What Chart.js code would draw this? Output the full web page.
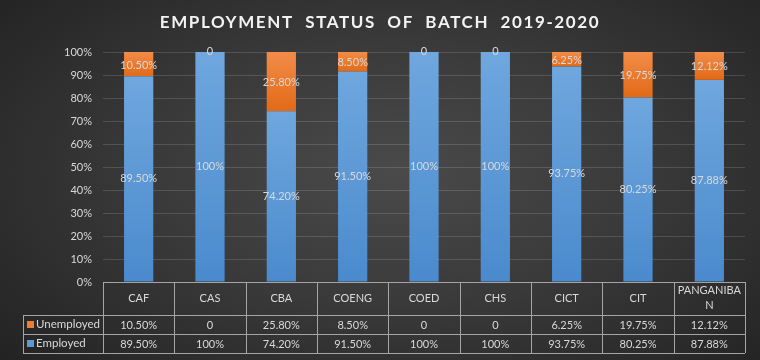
<!DOCTYPE html>
<html>
<head>
<meta charset="utf-8">
<script src="https://cdn.jsdelivr.net/npm/chart.js@4.4.0/dist/chart.umd.min.js"></script>
<style>
  html, body { margin: 0; padding: 0; }
  body {
    width: 760px; height: 360px; overflow: hidden;
    background: radial-gradient(ellipse 70% 80% at 52% 48%, #4a4a4a 0%, #3a3a3a 45%, #222222 100%);
  }
  #wrap { position: relative; width: 760px; height: 360px; }
</style>
</head>
<body>
<div id="wrap"><canvas id="statusChart" width="760" height="360"></canvas></div>
<script>
// datos del grafico
const colleges = ["CAF", "CAS", "CBA", "COENG", "COED", "CHS", "CICT", "CIT", "PANGANIBAN"];
const collegeHeader = [["CAF"], ["CAS"], ["CBA"], ["COENG"], ["COED"], ["CHS"], ["CICT"], ["CIT"], ["PANGANIBA", "N"]];
const unemployed = [10.5, 0, 25.8, 8.5, 0, 0, 6.25, 19.75, 12.12];
const employed = [89.5, 100, 74.2, 91.5, 100, 100, 93.75, 80.25, 87.88];
const yTicks = [0, 10, 20, 30, 40, 50, 60, 70, 80, 90, 100];
const chartTitle = "EMPLOYMENT  STATUS  OF  BATCH  2019-2020";

const textColor = "#d9d9d9";
const lineColor = "#a5a5a5";
const FONT = "Lato, 'Open Sans', sans-serif";

function fmt(v) {
    if (v === 0) return "0";
    if (v === 100) return "100%";
    return v.toFixed(2) + "%";
}

// degradado por segmento (estilo Excel)
function segGradient(ctx, light, dark, isTop) {
    const chart = ctx.chart;
    const area = chart.chartArea;
    if (!area || ctx.type !== "data") return dark;
    const y = chart.scales.y;
    const i = ctx.dataIndex;
    let lo, hi;
    if (isTop) { lo = employed[i]; hi = 100; } else { lo = 0; hi = employed[i]; }
    const top = y.getPixelForValue(hi);
    const bot = y.getPixelForValue(lo);
    if (bot - top < 1) return dark;
    const g = chart.ctx.createLinearGradient(0, top, 0, bot);
    g.addColorStop(0, light);
    g.addColorStop(1, dark);
    return g;
}

// plugin: titulo, etiquetas y tabla de datos
const extras = {
    id: "extras",
    afterDatasetsDraw(chart) {
        const ctx = chart.ctx;
        ctx.save();
        ctx.fillStyle = textColor;
        ctx.font = "11px " + FONT;
        ctx.textAlign = "center";
        ctx.textBaseline = "middle";
        const empMeta = chart.getDatasetMeta(0);
        const unMeta = chart.getDatasetMeta(1);
        employed.forEach((v, i) => {
            const el = empMeta.data[i];
            ctx.fillText(fmt(v), el.x, (el.y + el.base) / 2);
        });
        unemployed.forEach((v, i) => {
            const el = unMeta.data[i];
            const yy = v === 0 ? el.y - 1 : (el.y + el.base) / 2 + 1;
            ctx.fillText(fmt(v), el.x, yy);
        });
        ctx.restore();
    },
    afterDraw(chart) {
        const ctx = chart.ctx;
        const area = chart.chartArea;
        const x = chart.scales.x;
        ctx.save();
        // titulo
        ctx.fillStyle = "#f2f2f2";
        ctx.font = "bold 17px " + FONT;
        ctx.letterSpacing = "1.6px";
        ctx.textAlign = "center";
        ctx.textBaseline = "middle";
        ctx.fillText(chartTitle, 380, 23);
        ctx.letterSpacing = "0px";

        // tabla
        const step = (area.right - area.left) / colleges.length;
        const legLeft = 23;
        const rowH = [area.bottom, area.bottom + 33, area.bottom + 52, area.bottom + 71];
        ctx.strokeStyle = lineColor;
        ctx.lineWidth = 1;
        ctx.beginPath();
        ctx.moveTo(area.left, rowH[0] + 0.5); ctx.lineTo(area.right, rowH[0] + 0.5);
        for (let r = 1; r < 4; r++) {
            ctx.moveTo(legLeft, rowH[r] + 0.5); ctx.lineTo(area.right, rowH[r] + 0.5);
        }
        ctx.moveTo(legLeft + 0.5, rowH[1]); ctx.lineTo(legLeft + 0.5, rowH[3]);
        for (let c = 0; c <= colleges.length; c++) {
            const xx = Math.round(area.left + c * step) + 0.5;
            ctx.moveTo(xx, rowH[0]); ctx.lineTo(xx, rowH[3]);
        }
        ctx.stroke();

        ctx.fillStyle = textColor;
        ctx.font = "11px " + FONT;
        ctx.textAlign = "center";
        ctx.textBaseline = "middle";
        collegeHeader.forEach((lines, i) => {
            const cx = x.getPixelForValue(i);
            const my = (rowH[0] + rowH[1]) / 2;
            if (lines.length === 1) {
                ctx.fillText(lines[0], cx, my);
            } else {
                ctx.fillText(lines[0], cx, my - 8);
                ctx.fillText(lines[1], cx, my + 7);
            }
            ctx.fillText(fmt(unemployed[i]), cx, (rowH[1] + rowH[2]) / 2 + 1);
            ctx.fillText(fmt(employed[i]), cx, (rowH[2] + rowH[3]) / 2 + 1);
        });

        // leyenda dentro de la tabla
        const keys = [["Unemployed", "#ed7d31", 1], ["Employed", "#5b9bd5", 2]];
        ctx.textAlign = "left";
        ctx.font = "11.5px " + FONT;
        keys.forEach(([name, col, r]) => {
            const my = (rowH[r] + rowH[r + 1]) / 2;
            ctx.fillStyle = col;
            ctx.fillRect(27, my - 3.5, 7, 7);
            ctx.fillStyle = textColor;
            ctx.fillText(name, 36, my);
        });
        ctx.restore();
    }
};

const data = {
    labels: colleges,
    datasets: [
        {
            label: "Employed",
            data: employed,
            backgroundColor: (c) => segGradient(c, "#6fa7de", "#4a8acd", false),
            stack: "s",
        },
        {
            label: "Unemployed",
            data: unemployed,
            backgroundColor: (c) => segGradient(c, "#f28c48", "#e26a17", true),
            stack: "s",
        },
    ],
};

const config = {
    type: "bar",
    data: data,
    options: {
        responsive: false,
        animation: false,
        datasets: {
            bar: { categoryPercentage: 1, barPercentage: 0.41, borderWidth: 0 }
        },
        layout: { padding: { top: 52, bottom: 78, right: 15, left: 0 } },
        plugins: {
            legend: { display: false },
            title: { display: false },
            tooltip: { enabled: false },
        },
        scales: {
            x: {
                display: false,
                stacked: true,
            },
            y: {
                stacked: true,
                min: 0,
                max: 100,
                afterFit(scale) { scale.width = 103; },
                afterBuildTicks(scale) { scale.ticks = yTicks.map(v => ({ value: v })); },
                border: { display: false },
                grid: { color: "rgba(255,255,255,0.14)", drawTicks: false },
                ticks: {
                    color: textColor,
                    padding: 11,
                    font: { family: FONT, size: 11 },
                    callback: (v) => v + "%",
                },
            },
        },
    },
    plugins: [extras],
};

const statusChart = new Chart(document.getElementById("statusChart"), config);
</script>
</body>
</html>
